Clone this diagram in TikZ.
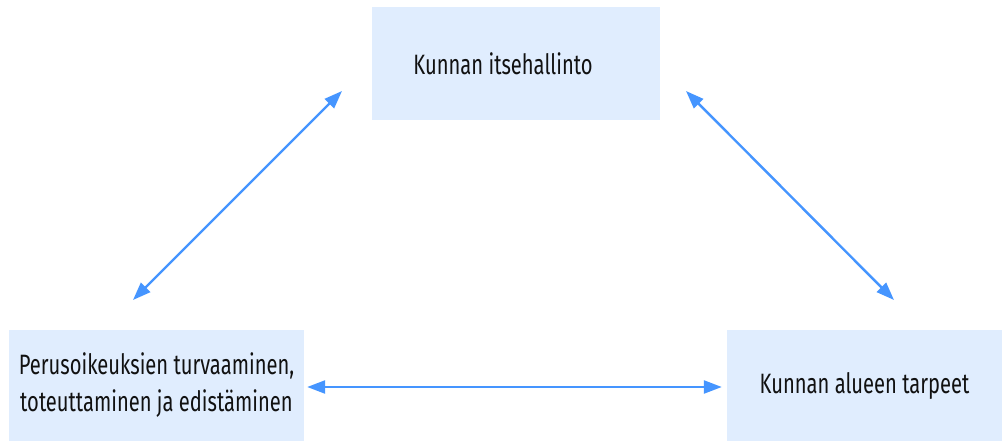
\documentclass[tikz,border=0pt]{standalone}
\usepackage{fontspec}
\setmainfont{Fira Sans}[FakeStretch=0.72]
\usetikzlibrary{arrows.meta}
\definecolor{boxfill}{HTML}{E0EDFE}
\definecolor{arrowblue}{HTML}{4595FF}
\definecolor{txt}{HTML}{111111}
\tikzset{
  boxnode/.style={fill=boxfill, draw=none, inner sep=0pt, text=txt, font=\fontsize{28}{37}\selectfont, align=center},
  link/.style={draw=arrowblue, line width=2.4pt, {Triangle[length=18pt,width=13pt]}-{Triangle[length=18pt,width=13pt]}}
}
\begin{document}
\begin{tikzpicture}[x=1pt,y=-1pt]
\useasboundingbox (0,0) rectangle (1002,441);
\node[boxnode, minimum width=288pt, minimum height=113pt] (top) at (516,63.5) {Kunnan itsehallinto\hspace*{26pt}};
\node[boxnode, minimum width=295pt, minimum height=111pt] (left) at (156.5,385.5) {Perusoikeuksien turvaaminen,\\toteuttaminen ja edistäminen};
\node[boxnode, minimum width=275pt, minimum height=111pt] (right) at (864.5,385.5) {Kunnan alueen tarpeet};
\coordinate (tl1) at (342,91);
\coordinate (tl2) at (133,300);
\coordinate (tr1) at (686,91);
\coordinate (tr2) at (894,300);
\draw[link] (tl2) -- (tl1);
\draw[link] (tr1) -- (tr2);
\draw[link] ([xshift=3pt]left.east |- 0,387) -- ([xshift=-5pt]right.west |- 0,387);
\end{tikzpicture}
\end{document}
